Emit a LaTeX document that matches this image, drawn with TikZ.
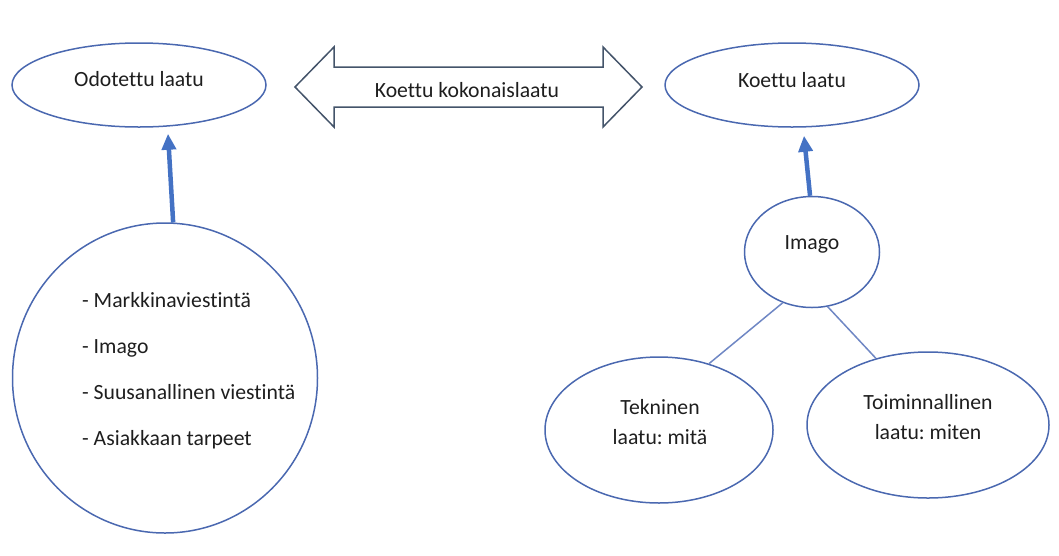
\documentclass[tikz,border=0pt]{standalone}
\usepackage{fontspec}
\setmainfont{Carlito}[Ligatures={NoCommon,NoContextual}]
\frenchspacing
\usetikzlibrary{arrows.meta, shapes.geometric, calc}
\definecolor{OvalBlue}{HTML}{4A68B0}
\definecolor{ArrowBlue}{HTML}{4472C4}
\definecolor{SlateGrey}{HTML}{44546A}
\definecolor{LinkBlue}{HTML}{6F87C4}
\definecolor{TextGrey}{HTML}{1E1E1E}

\begin{document}
\begin{tikzpicture}[x=1pt, y=-1pt,
  oval/.style={draw=OvalBlue, line width=1.5pt, ellipse, inner sep=0pt},
  txt/.style={text=TextGrey, font=\fontsize{21.7}{29.5}\selectfont, align=center, inner sep=0pt},
  feed/.style={draw=ArrowBlue, line width=4.5pt, -{Triangle[length=16pt, width=14pt]}},
  branch/.style={draw=LinkBlue, line width=1.5pt},
  wide/.style={draw=SlateGrey, line width=1.5pt, line join=miter}]
  \useasboundingbox (0,0) rectangle (1059,555);

  % --- Top row: expected and experienced quality ---
  \node[oval, minimum width=254pt, minimum height=84pt] (odotettu) at (139,85) {};
  \node[txt] (odotettuTxt) at (139,79) {Odotettu laatu};
  \node[oval, minimum width=254pt, minimum height=84pt] (koettu) at (792,85) {};
  \node[txt] (koettuTxt) at (792,80) {Koettu laatu};

  % --- Double block arrow between them ---
  \coordinate (mid) at (468.5,87);
  \draw[wide] ([xshift=-173.5pt]mid) -- ++(39,-40) -- ++(0,20) -- ++(269,0) -- ++(0,-20)
    -- ++(39,40) -- ++(-39,40) -- ++(0,-20) -- ++(-269,0) -- ++(0,20) -- cycle;
  \node[txt] (kokonais) at (467,90) {Koettu kokonaislaatu};

  % --- Left: sources of expectations ---
  \node[oval, minimum width=305pt, minimum height=310pt] (lista) at (165,378) {};
  \node[txt, align=left, anchor=west, font=\fontsize{21.7}{46}\selectfont] (listaTxt) at (82,371)
    {- Markkinaviestintä\\- Imago\\- Suusanallinen viestintä\\- Asiakkaan tarpeet};
  \draw[feed] (lista.87) -- ([xshift=29pt, yshift=-6pt]odotettu.south);

  % --- Right: image and its two dimensions ---
  \node[oval, minimum width=135pt, minimum height=111pt] (imago) at (812,252) {};
  \node[txt] (imagoTxt) at (812,244) {Imago};
  \draw[feed] (imago.92) -- ([xshift=12pt, yshift=-8pt]koettu.south);

  \node[oval, minimum width=228pt, minimum height=146pt] (tekninen) at (659,430) {};
  \node[txt] (tekninenTxt) at (660,422) {Tekninen\\laatu: mitä};
  \node[oval, minimum width=242pt, minimum height=146pt] (toiminnallinen) at (928,425) {};
  \node[txt] (toiminnallinenTxt) at (928,417) {Toiminnallinen\\laatu: miten};

  \draw[branch] (imago.-120) -- (tekninen.53);
  \draw[branch] (imago.-74) -- (toiminnallinen.128);
\end{tikzpicture}
\end{document}
